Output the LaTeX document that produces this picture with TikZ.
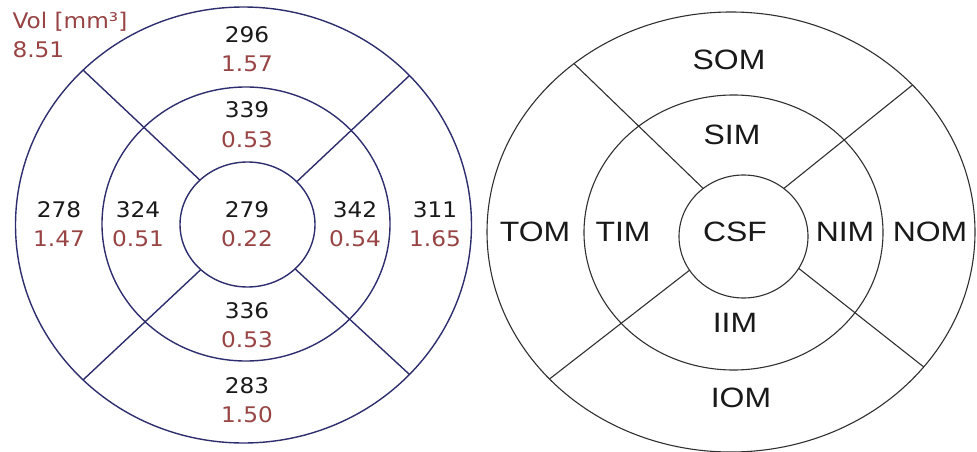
\documentclass[tikz,border=0pt]{standalone}
\usepackage{fontspec}
\setmainfont[FakeStretch=1.08]{DejaVu Sans}
\newfontfamily\lblfont[FakeStretch=1.14]{Liberation Sans}
\usetikzlibrary{shapes.geometric}
\definecolor{ringnavy}{HTML}{2E2E6E}
\definecolor{volred}{HTML}{984444}
\definecolor{mapgray}{HTML}{303030}
\tikzset{
  ring/.style={ellipse, draw=ringnavy, line width=1.4pt, inner sep=0pt, outer sep=0pt},
  mapring/.style={ellipse, draw=mapgray, line width=1.1pt, inner sep=0pt, outer sep=0pt},
  cellval/.style={align=center, font=\fontsize{21.5}{29.5}\selectfont, text=black!90},
  zonelbl/.style={font=\lblfont\fontsize{28}{30}\selectfont, text=black!90, inner sep=0pt}
}
\newcommand{\vv}[1]{\textcolor{volred}{#1}}

\begin{document}
\begin{tikzpicture}[x=1pt, y=-1pt]
\useasboundingbox (0,0) rectangle (977,452);

% thickness map with volumes
\node[ring, minimum width=456pt, minimum height=436pt] (lo) at (243.5,225) {};
\node[ring, minimum width=288pt, minimum height=274pt] (lm) at (246,224) {};
\node[ring, minimum width=135pt, minimum height=125pt] (li) at (247.5,224.5) {};

\draw[ringnavy, line width=1.4pt] (li.137) -- (lo.136);
\draw[ringnavy, line width=1.4pt] (li.41) -- (lo.42);
\draw[ringnavy, line width=1.4pt] (li.224) -- (lo.224);
\draw[ringnavy, line width=1.4pt] (li.317) -- (lo.318);

\node[cellval, align=left, anchor=west, text=volred] (vol) at (9,35) {Vol [mm³]\\8.51};

\node[cellval] (so) at (247,49)    {296\\\vv{1.57}};
\node[cellval] (si) at (247,124.5) {339\\\vv{0.53}};
\node[cellval] (to) at (59,224)    {278\\\vv{1.47}};
\node[cellval] (ti) at (138,224)   {324\\\vv{0.51}};
\node[cellval] (cs) at (247,224)   {279\\\vv{0.22}};
\node[cellval] (ni) at (355,224)   {342\\\vv{0.54}};
\node[cellval] (no) at (435,224)   {311\\\vv{1.65}};
\node[cellval] (ii) at (247,325)   {336\\\vv{0.53}};
\node[cellval] (io) at (247,400)   {283\\\vv{1.50}};

% sector naming scheme
\node[mapring, minimum width=488pt, minimum height=440pt] (ro) at (731,232) {};
\node[mapring, minimum width=299pt, minimum height=275pt] (rm) at (733.5,232.5) {};
\node[mapring, minimum width=129pt, minimum height=123pt] (ri) at (743.5,236.5) {};

\draw[mapgray, line width=1.1pt] (ri.130) -- (ro.133);
\draw[mapgray, line width=1.1pt] (ri.50) -- (ro.39);
\draw[mapgray, line width=1.1pt] (ri.212) -- (ro.219);
\draw[mapgray, line width=1.1pt] (ri.330) -- (ro.325);

\node[zonelbl] (som) at (729,60)  {SOM};
\node[zonelbl] (sim) at (732,135) {SIM};
\node[zonelbl] (tom) at (535,232) {TOM};
\node[zonelbl] (tim) at (623,232) {TIM};
\node[zonelbl] (csf) at (735,232) {CSF};
\node[zonelbl] (nim) at (845,232) {NIM};
\node[zonelbl] (nom) at (930,232) {NOM};
\node[zonelbl] (iim) at (735,323) {IIM};
\node[zonelbl] (iom) at (741,398) {IOM};
\end{tikzpicture}
\end{document}
